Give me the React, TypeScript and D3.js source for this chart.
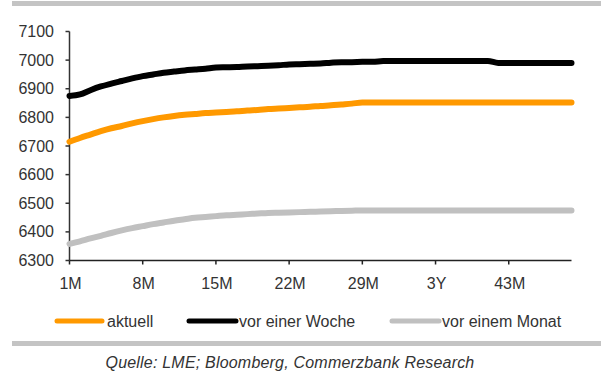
import React from "react";
import * as d3 from "d3";

// Forward curve: months 1..49
const months: string[] = Array.from({ length: 49 }, (_, i) => `${i + 1}M`);
const tickLabels: string[] = ["1M", "8M", "15M", "22M", "29M", "3Y", "43M"];
const tickIndex: number[] = [0, 7, 14, 21, 28, 35, 42];
const yTicks: number[] = [6300, 6400, 6500, 6600, 6700, 6800, 6900, 7000, 7100];

const aktuell: number[] = [
  6715, 6728, 6740, 6752, 6762, 6770, 6779, 6787, 6794, 6800,
  6805, 6809, 6812, 6815, 6817, 6819, 6821, 6824, 6826, 6829,
  6831, 6833, 6835, 6837, 6840, 6842, 6845, 6848, 6852, 6852,
  6852, 6852, 6852, 6852, 6852, 6852, 6852, 6852, 6852, 6852,
  6852, 6852, 6852, 6852, 6852, 6852, 6852, 6852, 6852,
];
const vorWoche: number[] = [
  6875, 6880, 6895, 6908, 6918, 6927, 6936, 6944, 6950, 6956,
  6960, 6964, 6967, 6970, 6974, 6975, 6976, 6978, 6979, 6980,
  6982, 6985, 6986, 6987, 6988, 6991, 6993, 6993, 6994, 6994,
  6997, 6997, 6997, 6997, 6997, 6997, 6997, 6997, 6997, 6997,
  6997, 6990, 6990, 6990, 6990, 6990, 6990, 6990, 6990,
];
const vorMonat: number[] = [
  6358, 6367, 6377, 6386, 6396, 6405, 6413, 6420, 6427, 6433,
  6439, 6444, 6449, 6452, 6455, 6458, 6460, 6462, 6464, 6466,
  6467, 6468, 6469, 6470, 6471, 6472, 6473, 6474, 6475, 6475,
  6475, 6475, 6475, 6475, 6475, 6475, 6475, 6475, 6475, 6475,
  6475, 6475, 6475, 6475, 6475, 6475, 6475, 6475, 6475,
];

const seriesNames: string[] = ["aktuell", "vor einer Woche", "vor einem Monat"];
const seriesColors: string[] = ["#FF9900", "#000000", "#C0C0C0"];
const source = "Quelle: LME; Bloomberg, Commerzbank Research";

const W = 603;
const H = 372;
const FONT = "'Liberation Sans', Arial, sans-serif";

export default function App() {
  const x = d3.scaleLinear().domain([0, months.length - 1]).range([69.5, 571.5]);
  const y = d3.scaleLinear().domain([6300, 7100]).range([260.5, 31.5]);
  const line = d3
    .line<number>()
    .x((_, i) => x(i))
    .y((v) => y(v))
    .curve(d3.curveMonotoneX);

  const data = [aktuell, vorWoche, vorMonat];
  // draw order: grey, orange, black on top
  const order = [2, 0, 1];

  const legendItems = [
    { x1: 57, x2: 102, tx: 107 },
    { x1: 189, x2: 236, tx: 239 },
    { x1: 392, x2: 439, tx: 442 },
  ];

  return (
    <svg
      width={W}
      height={H}
      style={{ position: "absolute", left: 0, top: 0, background: "#fff" }}
      fontFamily={FONT}
    >
      {/* frame bars */}
      <rect x={12} y={1} width={589} height={5} fill="#C4C4C4" />
      <rect x={12} y={341} width={589} height={5} fill="#C4C4C4" />

      {/* y axis */}
      <line x1={x(0)} x2={x(0)} y1={y(7100)} y2={y(6300)} stroke="#333" strokeWidth={1.5} />
      {yTicks.map((t) => (
        <g key={t}>
          <line x1={x(0) - 4} x2={x(0)} y1={y(t)} y2={y(t)} stroke="#333" strokeWidth={1.5} />
          <text
            x={54}
            y={y(t)}
            dy="0.35em"
            textAnchor="end"
            fontSize={16}
            fill="#333"
          >
            {t}
          </text>
        </g>
      ))}

      {/* x axis */}
      <line x1={x(0)} x2={x(months.length - 1)} y1={y(6300)} y2={y(6300)} stroke="#222" strokeWidth={1.5} />
      {tickIndex.map((idx, k) => (
        <g key={idx}>
          <line x1={x(idx)} x2={x(idx)} y1={y(6300)} y2={y(6300) + 4} stroke="#222" strokeWidth={1.5} />
          <text
            x={x(idx) + 1}
            y={289}
            textAnchor="middle"
            fontSize={16}
            fill="#333"
          >
            {tickLabels[k]}
          </text>
        </g>
      ))}

      {/* series */}
      {order.map((s) => (
        <path
          key={s}
          d={line(data[s]) || ""}
          fill="none"
          stroke={seriesColors[s]}
          strokeWidth={6}
          strokeLinecap="round"
          strokeLinejoin="round"
        />
      ))}

      {/* legend */}
      {legendItems.map((it, s) => (
        <g key={s}>
          <line x1={it.x1} x2={it.x2} y1={321} y2={321} stroke={seriesColors[s]} strokeWidth={5} strokeLinecap="round" />
          <text x={it.tx} y={321} dy="0.35em" fontSize={16} fill="#333">
            {seriesNames[s]}
          </text>
        </g>
      ))}

      {/* source */}
      <text
        x={290}
        y={368}
        textAnchor="middle"
        fontSize={16}
        fontStyle="italic"
        letterSpacing={0.2}
        fill="#333"
      >
        {source}
      </text>
    </svg>
  );
}
